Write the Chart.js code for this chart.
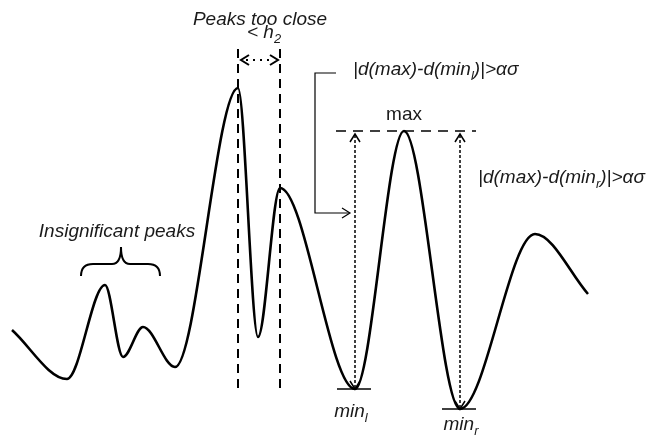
<!DOCTYPE html>
<html>
<head>
<meta charset="utf-8">
<script src="https://cdn.jsdelivr.net/npm/chart.js@4"></script>
<style>
  html, body { margin: 0; padding: 0; background: #fff; }
  #wrap { width: 650px; height: 443px; position: relative; }
</style>
</head>
<body>
<div id="wrap"><canvas id="peakChart"></canvas></div>
<script>
// Signal trace (x = position, y = signal level)
const positions = [12, 67, 105, 123, 143, 175, 238, 258, 280, 355, 404, 460, 535, 588];
const levels    = [113, 64, 158, 86, 116, 76, 355, 106, 255, 54, 312, 34, 209, 149];

// which points of the trace the notes refer to
const closePeaks = [6, 8];
const maxIdx = 10, minLIdx = 9, minRIdx = 11;

const FONT = '"Liberation Sans", Arial, sans-serif';

function chevron(ctx, x, y, dx, dy, len, half) {
    // open arrow head, tip at (x,y), pointing along (dx,dy)
    const nx = -dy, ny = dx;
    ctx.beginPath();
    ctx.moveTo(x - dx * len + nx * half, y - dy * len + ny * half);
    ctx.lineTo(x, y);
    ctx.lineTo(x - dx * len - nx * half, y - dy * len - ny * half);
    ctx.stroke();
}

function subText(ctx, parts, x, y, size, align) {
    // parts: [text, isSub]
    const widths = parts.map(p => {
        ctx.font = 'italic ' + (p[1] ? size * 0.68 : size) + 'px ' + FONT;
        return ctx.measureText(p[0]).width;
    });
    const total = widths.reduce((a, b) => a + b, 0);
    let cx = align === 'center' ? x - total / 2 : x;
    ctx.textAlign = 'left';
    parts.forEach((p, i) => {
        ctx.font = 'italic ' + (p[1] ? size * 0.68 : size) + 'px ' + FONT;
        ctx.fillText(p[0], cx, p[1] ? y + size * 0.28 : y);
        cx += widths[i];
    });
}

const notes = {
    id: 'notes',
    afterDatasetsDraw(chart) {
        const ctx = chart.ctx;
        const sx = chart.scales.x, sy = chart.scales.y;
        const X = v => sx.getPixelForValue(v);
        const Y = v => sy.getPixelForValue(v);
        ctx.save();
        ctx.strokeStyle = '#000';
        ctx.fillStyle = '#1a1a1a';
        ctx.textBaseline = 'alphabetic';

        // dashed guides through the two close peaks
        const xa = X(positions[closePeaks[0]]), xb = X(positions[closePeaks[1]]);
        ctx.lineWidth = 2;
        ctx.setLineDash([9, 6]);
        [xa, xb].forEach(x => {
            ctx.beginPath();
            ctx.moveTo(x, Y(394));
            ctx.lineTo(x, Y(53));
            ctx.stroke();
        });
        // dotted distance arrow
        const ya = Y(383);
        ctx.setLineDash([2, 5]);
        ctx.beginPath();
        ctx.moveTo(xa + 8, ya);
        ctx.lineTo(xb - 8, ya);
        ctx.stroke();
        ctx.setLineDash([]);
        chevron(ctx, xa + 3, ya, -1, 0, 8, 5);
        chevron(ctx, xb - 2, ya, 1, 0, 8, 5);

        ctx.font = 'italic 19px ' + FONT;
        ctx.textAlign = 'center';
        ctx.fillText('Peaks too close', X(260), Y(418));
        subText(ctx, [['< h', false], ['2', true]], X(247), Y(405), 19, 'left');

        // elbow connector to the left minimum arrow
        ctx.lineWidth = 1.2;
        ctx.beginPath();
        ctx.moveTo(X(336), Y(370));
        ctx.lineTo(X(315), Y(370));
        ctx.lineTo(X(315), Y(230));
        ctx.lineTo(X(349), Y(230));
        ctx.stroke();
        chevron(ctx, X(350), Y(230), 1, 0, 8, 5);
        subText(ctx, [['|d(max)-d(min', false], ['l', true], [')|>\u03b1\u03c3', false]], X(353), Y(368), 19, 'left');

        // max level line
        const yMax = Y(levels[maxIdx]);
        ctx.lineWidth = 1.6;
        ctx.setLineDash([10, 7]);
        ctx.beginPath();
        ctx.moveTo(X(336), yMax);
        ctx.lineTo(X(476), yMax);
        ctx.stroke();
        ctx.setLineDash([]);
        ctx.font = '19px ' + FONT;
        ctx.textAlign = 'center';
        ctx.fillText('max', X(positions[maxIdx]), Y(323));

        // dotted height arrows from each minimum to max
        [minLIdx, minRIdx].forEach(i => {
            const x = X(positions[i]), yMin = Y(levels[i]);
            ctx.lineWidth = 1.5;
            ctx.setLineDash([3, 2]);
            ctx.beginPath();
            ctx.moveTo(x, yMax + 4);
            ctx.lineTo(x, yMin - 2);
            ctx.stroke();
            ctx.setLineDash([]);
            chevron(ctx, x, yMax + 3, 0, -1, 8, 5);
            chevron(ctx, x, yMin, 0, 1, 8, 5);
            // baseline tick under minimum
            ctx.lineWidth = 1.6;
            ctx.beginPath();
            ctx.moveTo(x - 18, yMin);
            ctx.lineTo(x + 16, yMin);
            ctx.stroke();
        });
        subText(ctx, [['|d(max)-d(min', false], ['r', true], [')|>\u03b1\u03c3', false]], X(478), Y(260), 19, 'left');
        subText(ctx, [['min', false], ['l', true]], X(351), Y(26), 19, 'center');
        subText(ctx, [['min', false], ['r', true]], X(461), Y(13), 19, 'center');

        // insignificant peaks label + brace
        ctx.font = 'italic 19px ' + FONT;
        ctx.textAlign = 'center';
        ctx.fillText('Insignificant peaks', X(117), Y(206));
        const bl = X(81), br = X(160), bm = X(121);
        const yEnd = Y(167), yArm = Y(179), yTip = Y(196);
        ctx.lineWidth = 2;
        ctx.beginPath();
        ctx.moveTo(bl, yEnd);
        ctx.quadraticCurveTo(bl, yArm, bl + 12, yArm);
        ctx.lineTo(bm - 9, yArm);
        ctx.quadraticCurveTo(bm, yArm, bm, yTip);
        ctx.quadraticCurveTo(bm, yArm, bm + 9, yArm);
        ctx.lineTo(br - 12, yArm);
        ctx.quadraticCurveTo(br, yArm, br, yEnd);
        ctx.stroke();

        ctx.restore();
    }
};

const ctx = document.getElementById('peakChart').getContext('2d');
new Chart(ctx, {
    type: 'line',
    data: {
        datasets: [{
            data: positions.map((x, i) => ({ x: x, y: levels[i] })),
            borderColor: '#000',
            borderWidth: 2.6,
            pointRadius: 0,
            fill: false,
            cubicInterpolationMode: 'monotone'
        }]
    },
    options: {
        responsive: true,
        maintainAspectRatio: false,
        animation: false,
        events: [],
        layout: { padding: 0 },
        plugins: { legend: { display: false }, tooltip: { enabled: false } },
        scales: {
            x: { type: 'linear', min: 0, max: 650, display: false },
            y: { type: 'linear', min: 0, max: 443, display: false }
        }
    },
    plugins: [notes]
});
</script>
</body>
</html>
